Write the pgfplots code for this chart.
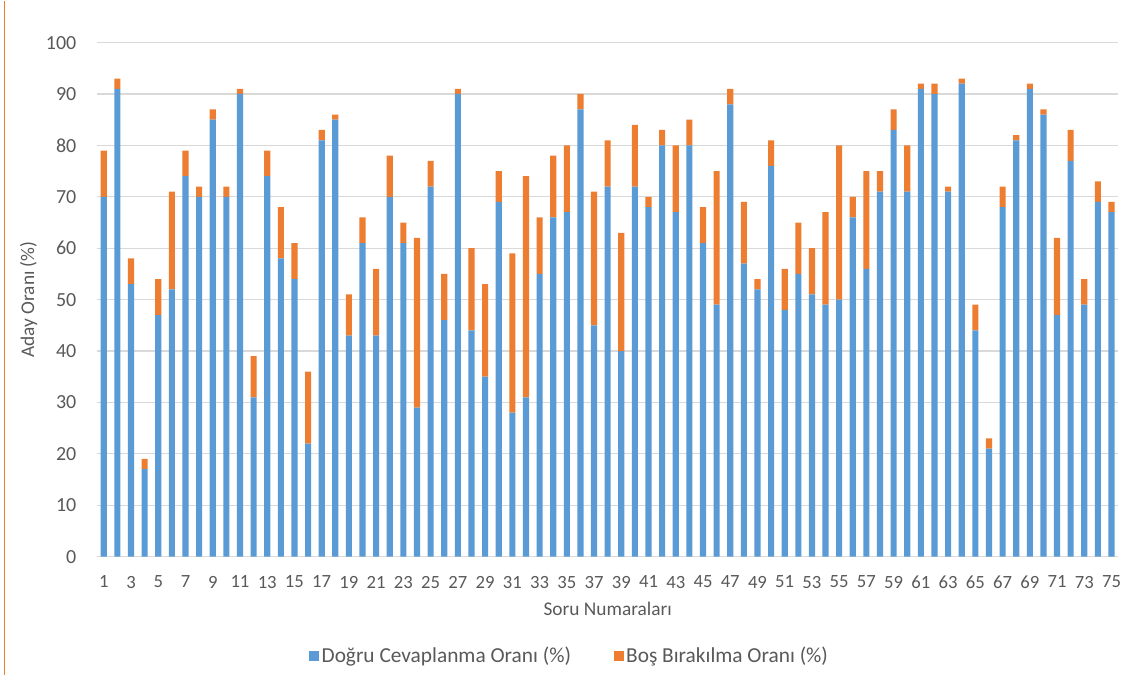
\documentclass[border=0pt]{standalone}
\usepackage{fontspec}
\setmainfont{Carlito}
\usepackage{pgfplots}
\usepackage{pgfplotstable}
\pgfplotsset{compat=1.18}

\definecolor{cblue}{HTML}{5B9BD5}
\definecolor{corange}{HTML}{ED7D31}
\definecolor{cgrid}{HTML}{D9D9D9}
\definecolor{ctext}{HTML}{595959}

% soru, dogru cevap, bos birakma
\pgfplotstableread{
q dogru bos
1 70 9
2 91 2
3 53 5
4 17 2
5 47 7
6 52 19
7 74 5
8 70 2
9 85 2
10 70 2
11 90 1
12 31 8
13 74 5
14 58 10
15 54 7
16 22 14
17 81 2
18 85 1
19 43 8
20 61 5
21 43 13
22 70 8
23 61 4
24 29 33
25 72 5
26 46 9
27 90 1
28 44 16
29 35 18
30 69 6
31 28 31
32 31 43
33 55 11
34 66 12
35 67 13
36 87 3
37 45 26
38 72 9
39 40 23
40 72 12
41 68 2
42 80 3
43 67 13
44 80 5
45 61 7
46 49 26
47 88 3
48 57 12
49 52 2
50 76 5
51 48 8
52 55 10
53 51 9
54 49 18
55 50 30
56 66 4
57 56 19
58 71 4
59 83 4
60 71 9
61 91 1
62 90 2
63 71 1
64 92 1
65 44 5
66 21 2
67 68 4
68 81 1
69 91 1
70 86 1
71 47 15
72 77 6
73 49 5
74 69 4
75 67 2
}\sorular

\begin{document}
\begin{tikzpicture}
\begin{axis}[
  scale only axis,
  width=766pt, height=385.5pt,
  ybar stacked,
  bar width=4.6pt,
  xmin=0.5, xmax=75.5,
  ymin=0, ymax=100,
  enlarge x limits=false,
  xtick={1,3,...,75},
  ytick={0,10,...,100},
  ymajorgrids,
  grid style={cgrid, line width=0.8pt},
  axis x line*=bottom,
  axis y line*=left,
  y axis line style={draw=none},
  x axis line style={cgrid, line width=0.8pt, -},
  major tick length=0pt,
  tick style={draw=none},
  font=\fontsize{14.5}{16}\selectfont,
  tick label style={text=ctext},
  yticklabel style={xshift=-12pt, font=\fontsize{15}{16}\selectfont},
  xticklabel style={yshift=-11pt, font=\fontsize{14}{16}\selectfont},
  /pgf/number format/assume math mode=true,
  xlabel={Soru Numaraları},
  ylabel={Aday Oranı (\%)},
  label style={text=ctext},
  xlabel style={yshift=-3pt},
  ylabel style={at={(axis description cs:-0.067,0.5)}, anchor=center},
  legend style={draw=none, at={(axis description cs:0.463,-0.193)}, anchor=center,
    legend columns=2, text=ctext, /tikz/every even column/.append style={column sep=30pt},
    font=\fontsize{16}{18}\selectfont},
  legend image code/.code={\fill[#1] (0pt,-3.7pt) rectangle (7.4pt,3.7pt);},
]
\addplot[fill=cblue, draw=none] table[x=q, y=dogru] {\sorular};
\addplot[fill=corange, draw=none] table[x=q, y=bos] {\sorular};
\legend{Doğru Cevaplanma Oranı (\%), Boş Bırakılma Oranı (\%)}
\end{axis}
\draw[corange, line width=0.9pt] (-69.5pt,-88.5pt) -- (-69.5pt,417pt);
\path[use as bounding box] (-72.75pt,-88.5pt) rectangle (775.5pt,417pt);
\end{tikzpicture}
\end{document}
